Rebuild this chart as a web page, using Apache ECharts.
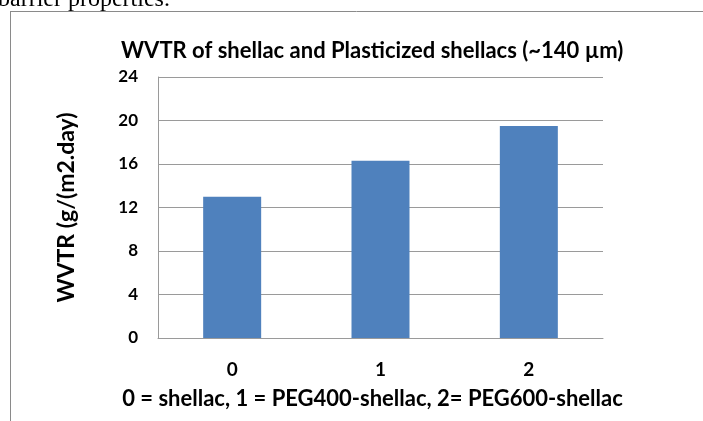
<!DOCTYPE html>
<html>
<head>
<meta charset="utf-8">
<script src="https://cdn.jsdelivr.net/npm/echarts@6/dist/echarts.min.js"></script>
<style>
  html, body { margin: 0; padding: 0; background: #fff; }
  #chart { width: 703px; height: 421px; }
</style>
</head>
<body>
<div id="chart"></div>
<script>
// data
var categories = ['0', '1', '2'];
var wvtrValues = [13.0, 16.3, 19.5];
var yTicks = { min: 0, max: 24, interval: 4 };

var chart = echarts.init(document.getElementById('chart'), null, { renderer: 'canvas' });

var boldFont = 'Lato, "Open Sans", sans-serif';

var option = {
    backgroundColor: '#fff',
    animation: false,
    title: {
        text: 'WVTR of shellac and Plasticized shellacs (~140 \u00b5m)',
        left: 116,
        top: 35,
        textStyle: { fontFamily: boldFont, fontWeight: 'bold', fontSize: 22, color: '#000' }
    },
    graphic: [
        // cut-off line of the page text above the figure
        { type: 'text', left: -2, top: -12, style: { text: 'barrier properties.', font: '24px "Liberation Serif", serif', fill: '#000' } },
        // frame of the figure
        { type: 'line', shape: { x1: 10, y1: 11.5, x2: 703, y2: 11.5 }, style: { stroke: '#8a8a8a', lineWidth: 1 } },
        { type: 'line', shape: { x1: 10.5, y1: 11, x2: 10.5, y2: 421 }, style: { stroke: '#8a8a8a', lineWidth: 1 } }
    ],
    grid: { left: 158, right: 100, top: 77, bottom: 83 },
    xAxis: {
        type: 'category',
        data: categories,
        name: '0 = shellac, 1 = PEG400-shellac, 2= PEG600-shellac',
        nameLocation: 'middle',
        nameGap: 50,
        nameTextStyle: { fontFamily: boldFont, fontWeight: 'bold', fontSize: 22, color: '#000', padding: [0, 16, 0, 0] },
        axisLine: { lineStyle: { color: '#9a9a9a' } },
        axisTick: { show: false },
        axisLabel: { margin: 22, fontFamily: boldFont, fontWeight: 'bold', fontSize: 19, color: '#000' }
    },
    yAxis: {
        type: 'value',
        min: yTicks.min,
        max: yTicks.max,
        interval: yTicks.interval,
        name: 'WVTR (g/(m2.day)',
        nameLocation: 'middle',
        nameRotate: 90,
        nameGap: 80,
        nameTextStyle: { fontFamily: boldFont, fontWeight: 'bold', fontSize: 23, color: '#000' },
        axisLine: { show: true, lineStyle: { color: '#9a9a9a' } },
        axisTick: { show: false },
        axisLabel: { margin: 20, fontFamily: boldFont, fontWeight: 'bold', fontSize: 17, color: '#000' },
        splitLine: { lineStyle: { color: '#9a9a9a' } }
    },
    series: [{
        type: 'bar',
        data: wvtrValues,
        barWidth: 58,
        itemStyle: { color: '#4f81bd' }
    }]
};

chart.setOption(option);
window.addEventListener('resize', chart.resize);
</script>
</body>
</html>
